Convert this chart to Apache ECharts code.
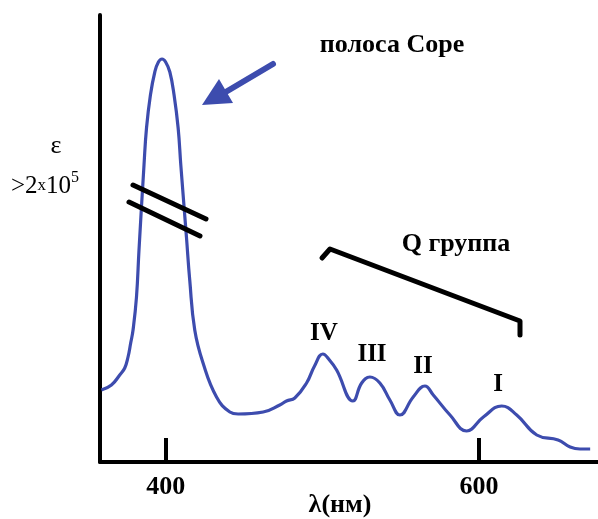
<!DOCTYPE html>
<html>
<head>
<meta charset="utf-8">
<script src="https://cdn.jsdelivr.net/npm/echarts@6/dist/echarts.min.js"></script>
<style>
  html, body { margin: 0; padding: 0; background: #fff; }
  #chart { width: 598px; height: 519px; }
</style>
</head>
<body>
<div id="chart"></div>
<script>
(function () {
  var blue = '#3d4cae';
  var serif = '"Liberation Serif", "Times New Roman", serif';

  // wavelength (nm) and absorbance (arbitrary units)
  var wavelengths = [358.9, 365.3, 370.6, 373.8, 375.9, 377.6, 379.1, 381.3, 382.9, 386.1, 387.7, 390.2,
    393.0, 395.3, 397.6, 399.9, 402.6, 405.3, 407.9, 409.6, 413.2, 415.3, 418.5, 423.8, 432.4, 440.9, 446.2,
    462.2, 472.8, 477.1, 482.4, 489.9, 495.0, 500.3, 504.5, 509.1, 519.5, 525.1, 530.4, 536.7,
    543.1, 549.5, 558.0, 565.5, 570.8, 581.5, 592.1, 602.8, 614.5, 624.1, 636.9, 650.5, 658.2,
    664.5, 671.0];
  var absorbance = [72, 77, 87, 94, 105, 119, 132, 165, 212, 297, 334, 367,
    390, 400, 403, 400, 390, 367, 334, 297, 225, 182, 132, 99, 65, 50, 48,
    50, 57, 61, 64, 79, 96, 108, 102, 92, 61, 79, 85, 79,
    62, 47, 65, 76, 67, 47, 31, 45, 56, 47, 27, 22, 15,
    13, 13];
  var tickValues = [400, 600];
  var peakNames = ['IV', 'III', 'II', 'I'];

  var el = document.getElementById('chart');
  var chart = echarts.init(el, null, { renderer: 'canvas' });

  var data = wavelengths.map(function (w, i) { return [w, absorbance[i]]; });

  function txt(x, y, text, size, weight) {
    return {
      type: 'text', x: x, y: y, z: 10,
      style: {
        text: text, fill: '#000', font: (weight || 'bold') + ' ' + size + 'px ' + serif,
        align: 'center', verticalAlign: 'middle'
      }
    };
  }
  function seg(x1, y1, x2, y2, w, color) {
    return {
      type: 'line', z: 10,
      shape: { x1: x1, y1: y1, x2: x2, y2: y2 },
      style: { stroke: color || '#000', lineWidth: w, lineCap: 'round', lineJoin: 'round' }
    };
  }

  var peakPos = [[324, 334], [372, 355], [423, 367], [498, 385]];

  var graphics = [
    txt(392, 45, 'полоса Соре', 26),
    txt(456, 244, 'Q группа', 26),
    txt(56, 146, 'ε', 26, 'normal'),
    {
      type: 'text', x: 11, y: 186, z: 10,
      style: {
        text: '{a|>2}{b|x}{a|10}{s|5}',
        verticalAlign: 'middle',
        rich: {
          a: { font: 'normal 25px ' + serif, fill: '#000' },
          b: { font: 'normal 17px ' + serif, fill: '#000' },
          s: { font: 'normal 16px ' + serif, fill: '#000', padding: [0, 0, 17, 0] }
        }
      }
    },
    // break marks on the Soret band
    seg(133, 185, 206, 219, 5),
    seg(129, 202, 200, 236, 5),
    // Q group bracket
    {
      type: 'polyline', z: 10,
      shape: { points: [[322, 258], [330, 249], [520, 321], [520, 335]] },
      style: { stroke: '#000', lineWidth: 5, lineCap: 'round', lineJoin: 'round', fill: null }
    },
    // arrow
    seg(273, 64, 224, 93, 6, blue),
    {
      type: 'polygon', z: 10,
      shape: { points: [[202, 105], [219, 79], [233, 103]] },
      style: { fill: blue }
    }
  ];
  peakNames.forEach(function (n, i) {
    graphics.push(txt(peakPos[i][0], peakPos[i][1], n, 25));
  });
  graphics.push(txt(340, 505, 'λ(нм)', 26));

  chart.setOption({
    animation: false,
    grid: { left: 100, right: 0, top: 15, bottom: 57, containLabel: false },
    xAxis: {
      type: 'value',
      min: 358,
      max: 676,
      axisLine: { show: true, onZero: false, lineStyle: { color: '#000', width: 4, cap: 'round' } },
      axisTick: {
        show: true, inside: true, length: 24,
        customValues: tickValues,
        lineStyle: { color: '#000', width: 4 }
      },
      axisLabel: {
        show: true, customValues: tickValues, margin: 12,
        color: '#000', fontFamily: serif, fontWeight: 'bold', fontSize: 26
      },
      splitLine: { show: false }
    },
    yAxis: {
      type: 'value',
      min: 0,
      max: 447,
      axisLine: { show: true, lineStyle: { color: '#000', width: 4, cap: 'round' } },
      axisTick: { show: false },
      axisLabel: { show: false },
      splitLine: { show: false }
    },
    series: [{
      type: 'line',
      data: data,
      smooth: 0.45,
      symbol: 'none',
      lineStyle: { color: blue, width: 3.2 }
    }],
    graphic: graphics
  });
})();
</script>
</body>
</html>
